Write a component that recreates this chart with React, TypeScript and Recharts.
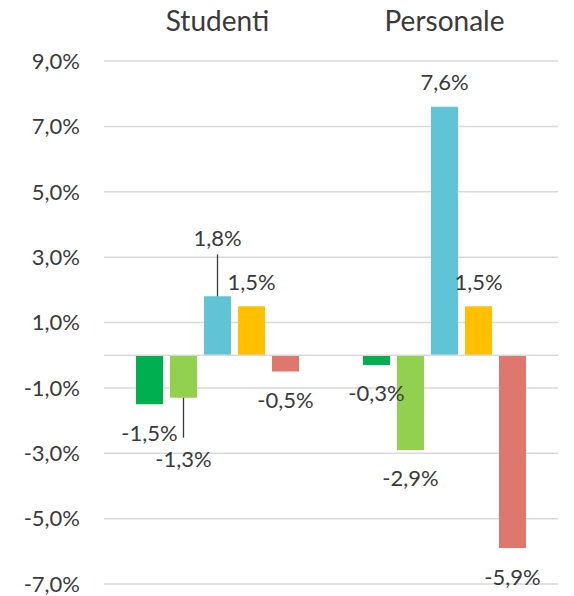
import { BarChart, Bar, XAxis, YAxis, CartesianGrid, ReferenceLine, LabelList } from "recharts";

const categories = ["Studenti", "Personale"];
const yTicks = [-7, -5, -3, -1, 1, 3, 5, 7, 9];

// five series, one value per category
const serieA = [-1.5, -0.3];
const serieB = [-1.3, -2.9];
const serieC = [1.8, 7.6];
const serieD = [1.5, 1.5];
const serieE = [-0.5, -5.9];

const seriesKeys = ["a", "b", "c", "d", "e"];
const seriesValues = [serieA, serieB, serieC, serieD, serieE];
const colors = ["#00B050", "#92D050", "#61C4D6", "#FFC000", "#DE786F"];

const data = categories.map((name, i) => {
  const row: Record<string, string | number> = { name };
  seriesKeys.forEach((k, s) => (row[k] = seriesValues[s][i]));
  return row;
});

// labels that Excel moved away from the bar, with a leader line
const nudges: Record<string, number> = { "0-2": -34, "0-1": 33 };

const TEXT = "#3a3a3a";
const FONT = "Lato, 'Open Sans', sans-serif";

const fmt = (v: number) => v.toFixed(1).replace(".", ",") + "%";

function makeLabel(series: number) {
  return (props: any) => {
    const { x, y, width, height, value, index } = props;
    const top = Math.min(y, y + height);
    const bottom = Math.max(y, y + height);
    const cx = x + width / 2;
    const extra = nudges[`${index}-${series}`] ?? 0;
    const neg = value < 0;
    const cy = neg ? bottom + 28 + extra : top - 25 + extra;
    return (
      <g>
        {extra !== 0 && (
          <line
            x1={cx}
            x2={cx}
            y1={neg ? bottom : top}
            y2={neg ? cy - 21 : cy + 17}
            stroke={TEXT}
            strokeWidth={1.3}
          />
        )}
        <text x={cx} y={cy} textAnchor="middle" dominantBaseline="central" fill={TEXT} fontSize={22} fontFamily={FONT}>
          {fmt(value)}
        </text>
      </g>
    );
  };
}

export default function App() {
  return (
    <div style={{ position: "absolute", left: 0, top: 0, background: "#fff" }}>
      <BarChart
        width={574}
        height={596}
        data={data}
        margin={{ top: 0, right: 16, bottom: 12, left: 0 }}
        barSize={27}
        barGap={7}
      >
        <CartesianGrid vertical={false} stroke="#D9D9D9" strokeWidth={1.5} />
        <XAxis
          dataKey="name"
          orientation="top"
          height={61}
          axisLine={false}
          tickLine={false}
          tickSize={0}
          tickMargin={30}
          tick={{ fill: TEXT, fontSize: 28, fontFamily: FONT }}
        />
        <YAxis
          width={104}
          domain={[-7, 9]}
          ticks={yTicks}
          interval={0}
          axisLine={false}
          tickLine={false}
          tickSize={0}
          tickMargin={24}
          tickFormatter={fmt}
          tick={{ fill: TEXT, fontSize: 22, fontFamily: FONT }}
        />
        <ReferenceLine y={0} stroke="#D9D9D9" strokeWidth={1.5} />
        {seriesKeys.map((k, s) => (
          <Bar key={k} dataKey={k} fill={colors[s]} isAnimationActive={false}>
            <LabelList dataKey={k} content={makeLabel(s)} />
          </Bar>
        ))}
      </BarChart>
    </div>
  );
}
